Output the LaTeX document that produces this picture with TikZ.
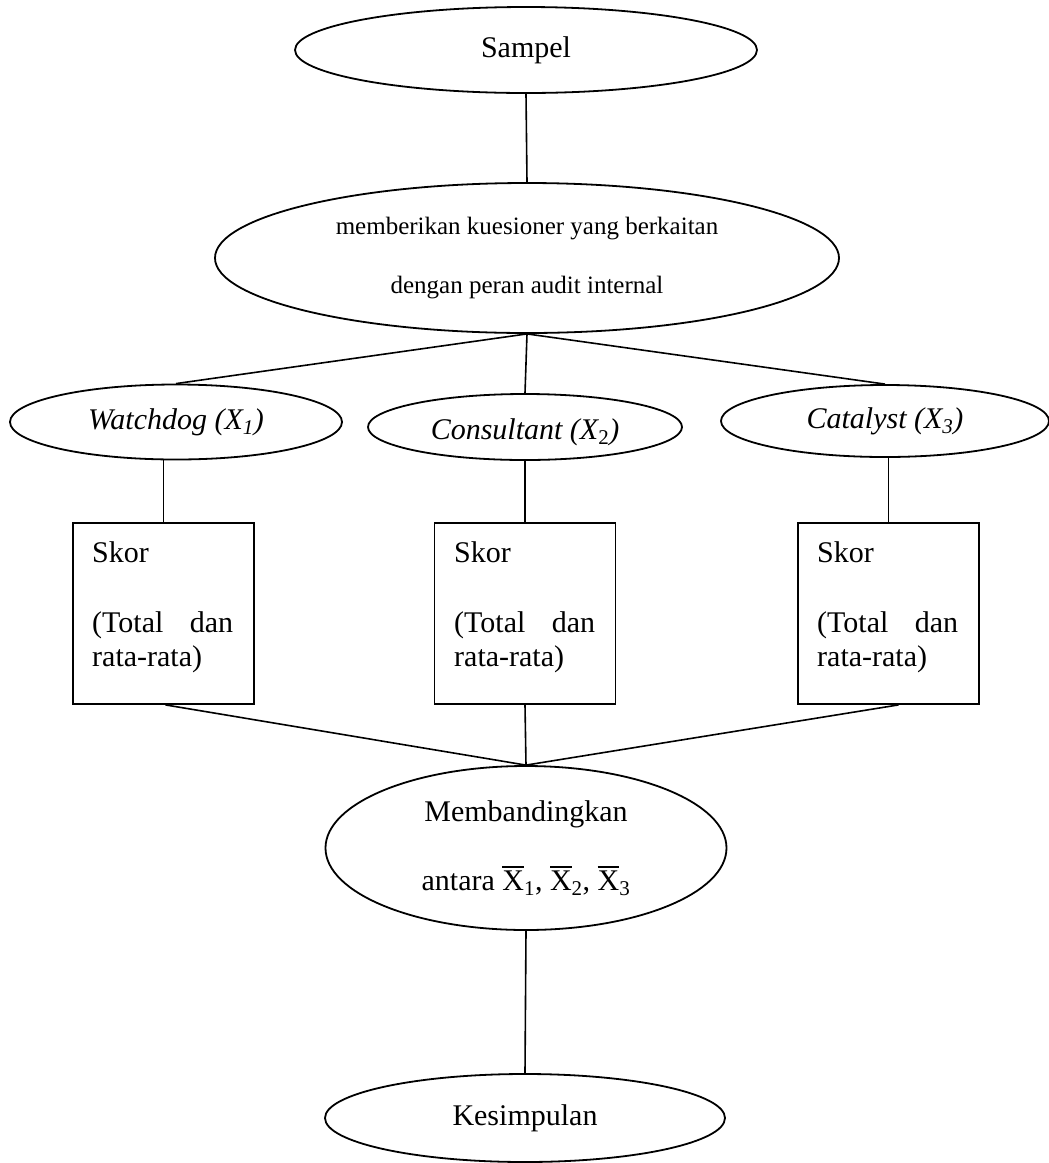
\documentclass[tikz,border=0pt]{standalone}
\usepackage{fontspec}
\setmainfont{Liberation Serif}
\usetikzlibrary{shapes.geometric,calc}
\newcommand{\xbarsub}[1]{\setbox0\hbox{X}\rlap{\rule[0.74em]{\wd0}{0.065em}}X\textsubscript{#1}}
\begin{document}
\begin{tikzpicture}[x=1pt,y=-1pt,
  oval/.style={draw, ellipse, line width=1.8pt, inner sep=0pt, font=\fontsize{30}{35}\selectfont},
  sqbox/.style={draw, rectangle, line width=1.8pt, minimum width=181pt, minimum height=181pt, inner sep=0pt},
  conn/.style={line width=1.6pt},
  txt/.style={inner sep=0pt, font=\fontsize{30}{35}\selectfont}]
\useasboundingbox (0,0) rectangle (1049,1163);
% ellipses
\node[oval, minimum width=462pt, minimum height=86pt] (sampel) at (526,50) {Sampel};
\node[oval, minimum width=624pt, minimum height=150pt, align=center, font=\fontsize{25}{30}\selectfont] (kues) at (527,258) {memberikan kuesioner yang berkaitan\\[29pt]dengan peran audit internal};
\node[oval, minimum width=332pt, minimum height=75pt] (wd) at (176,422) {\itshape Watchdog (X\textsubscript{1})};
\node[oval, minimum width=314pt, minimum height=66pt] (cs) at (525,427) {};
\node[txt] (cstext) at (525,432) {\itshape Consultant (X\textsubscript{\upshape 2})};
\node[oval, minimum width=328pt, minimum height=72pt] (ct) at (885,421) {\itshape Catalyst (X\textsubscript{3})};
% boxes
\node[sqbox] (b1) at (163.5,613.5) {};
\node[sqbox] (b2) at (525,613.5) {};
\node[sqbox] (b3) at (888.5,613.5) {};
% box texts
\node[txt, anchor=base west] (s1) at (92,562) {Skor};
\node[txt, anchor=base west] (t1) at (92,632) {\makebox[141pt][s]{(Total dan}};
\node[txt, anchor=base west] (r1) at (92,666) {rata-rata)};
\node[txt, anchor=base west] (s2) at (454,562) {Skor};
\node[txt, anchor=base west] (t2) at (454,632) {\makebox[141pt][s]{(Total dan}};
\node[txt, anchor=base west] (r2) at (454,666) {rata-rata)};
\node[txt, anchor=base west] (s3) at (817,562) {Skor};
\node[txt, anchor=base west] (t3) at (817,632) {\makebox[141pt][s]{(Total dan}};
\node[txt, anchor=base west] (r3) at (817,666) {rata-rata)};
% lower ellipses
\node[oval, minimum width=401pt, minimum height=164pt, align=center] (memb) at (526,848) {Membandingkan\\[34pt]antara \xbarsub{1}, \xbarsub{2}, \xbarsub{3}};
\node[oval, minimum width=400pt, minimum height=88pt] (kes) at (525,1118) {Kesimpulan};
% connectors
\draw[conn] (sampel.south) -- (kues.north);
\draw[conn] (kues.south) -- (wd.north);
\draw[conn] (kues.south) -- (cs.north);
\draw[conn] (kues.south) -- (ct.north);
\draw[conn] (b1.north) -- (b1.north |- wd.south);
\draw[conn] (b2.north) -- (cs.south);
\draw[conn] (b3.north) -- (b3.north |- ct.south);
\draw[conn] ([xshift=2pt]b1.south) -- (memb.north);
\draw[conn] (b2.south) -- (memb.north);
\draw[conn] ([xshift=10pt]b3.south) -- (memb.north);
\draw[conn] (memb.south) -- (kes.north);
\end{tikzpicture}
\end{document}
